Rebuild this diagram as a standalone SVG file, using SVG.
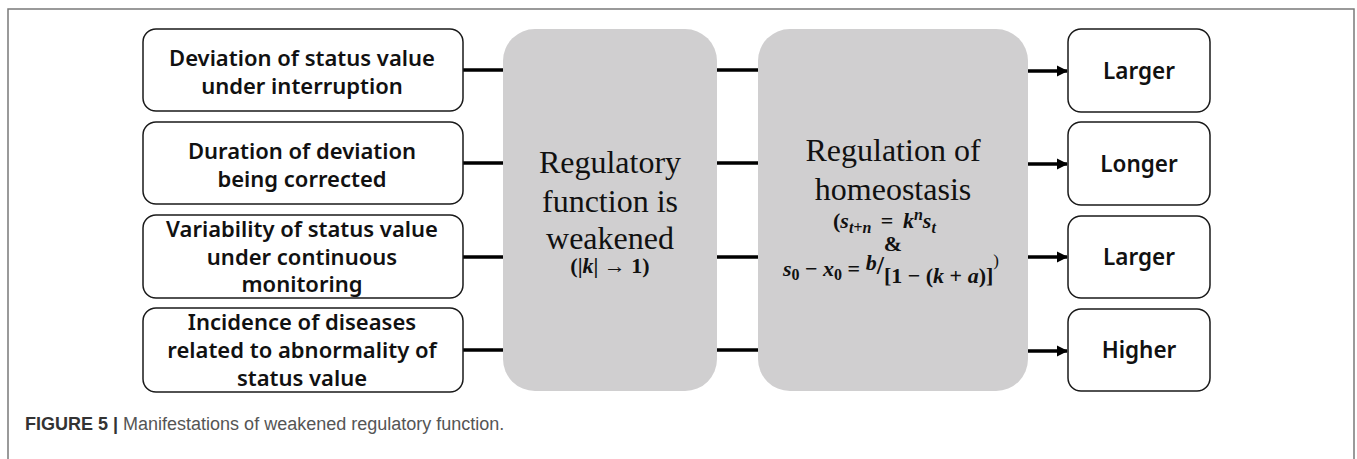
<svg xmlns="http://www.w3.org/2000/svg" width="1357" height="459" viewBox="0 0 1357 459">
  <defs>
    <marker id="arrow" viewBox="0 0 10 10" refX="9" refY="5" markerWidth="3.2" markerHeight="3.2" markerUnits="strokeWidth" orient="auto">
      <path d="M0,0 L10,5 L0,10 z" fill="#000"/>
    </marker>
    <style>
      .frame { fill: none; stroke: #7a7a7a; stroke-width: 1.5; }
      .box { fill: #fff; stroke: #1a1a1a; stroke-width: 1.5; }
      .hub { fill: #d0cfd0; stroke: none; }
      .lbl { font-family: "Noto Sans", "Open Sans", "DejaVu Sans", sans-serif; font-weight: 600; font-size: 22px; fill: #111; text-anchor: middle; }
      .out { font-family: "Noto Sans", "Open Sans", "DejaVu Sans", sans-serif; font-weight: 600; font-size: 22.5px; fill: #111; text-anchor: middle; }
      .serif { font-family: "Liberation Serif", "Times New Roman", serif; font-size: 32px; fill: #111; text-anchor: middle; }
      .math { font-family: "Liberation Serif", "DejaVu Serif", serif; font-weight: bold; font-style: italic; font-size: 22px; fill: #111; }
      .up { font-style: normal; }
      .link { stroke: #000; stroke-width: 3.5; fill: none; }
      .cap { font-family: "Liberation Sans", Arial, sans-serif; font-size: 18px; }
    </style>
  </defs>

  <!-- outer frame, open at the bottom -->
  <path class="frame" d="M8,459 V9 H1354 V459"/>

  <!-- connectors -->
  <g id="connectors">
    <line class="link" x1="463" y1="70" x2="503" y2="70"/>
    <line class="link" x1="463" y1="163" x2="503" y2="163"/>
    <line class="link" x1="463" y1="257" x2="503" y2="257"/>
    <line class="link" x1="463" y1="350" x2="503" y2="350"/>
    <line class="link" x1="717" y1="70" x2="758" y2="70"/>
    <line class="link" x1="717" y1="163" x2="758" y2="163"/>
    <line class="link" x1="717" y1="257" x2="758" y2="257"/>
    <line class="link" x1="717" y1="350" x2="758" y2="350"/>
    <line class="link" x1="1028" y1="71" x2="1067" y2="71" marker-end="url(#arrow)"/>
    <line class="link" x1="1028" y1="164" x2="1067" y2="164" marker-end="url(#arrow)"/>
    <line class="link" x1="1028" y1="257" x2="1067" y2="257" marker-end="url(#arrow)"/>
    <line class="link" x1="1028" y1="351" x2="1067" y2="351" marker-end="url(#arrow)"/>
  </g>

  <!-- left column: observed manifestations -->
  <g id="deviation">
    <rect class="box" x="143" y="29" width="320" height="82" rx="13"/>
    <text class="lbl" x="302" y="66">Deviation of status value</text>
    <text class="lbl" x="302" y="94">under interruption</text>
  </g>
  <g id="duration">
    <rect class="box" x="143" y="122" width="320" height="82" rx="13"/>
    <text class="lbl" x="302" y="159">Duration of deviation</text>
    <text class="lbl" x="302" y="187">being corrected</text>
  </g>
  <g id="variability">
    <rect class="box" x="143" y="215" width="320" height="83" rx="13"/>
    <text class="lbl" x="302" y="237">Variability of status value</text>
    <text class="lbl" x="302" y="265">under continuous</text>
    <text class="lbl" x="302" y="292">monitoring</text>
  </g>
  <g id="incidence">
    <rect class="box" x="143" y="308" width="320" height="84" rx="13"/>
    <text class="lbl" x="302" y="330">Incidence of diseases</text>
    <text class="lbl" x="302" y="358">related to abnormality of</text>
    <text class="lbl" x="302" y="386">status value</text>
  </g>

  <!-- centre: weakened regulation -->
  <g id="weakened">
    <rect class="hub" x="503" y="29" width="214" height="362" rx="32"/>
    <text class="serif" x="610" y="173">Regulatory</text>
    <text class="serif" x="610" y="212">function is</text>
    <text class="serif" x="610" y="249">weakened</text>
    <text class="math" x="610" y="273" text-anchor="middle" font-size="17"><tspan class="up">(|</tspan>k<tspan class="up">| → 1)</tspan></text>
  </g>

  <g id="homeostasis">
    <rect class="hub" x="758" y="29" width="270" height="362" rx="32"/>
    <text class="serif" x="893" y="161">Regulation of</text>
    <text class="serif" x="893" y="200">homeostasis</text>
    <text class="math" x="833" y="228" font-size="23"><tspan class="up">(</tspan>s<tspan font-size="16" dy="5">t+n</tspan><tspan class="up" dx="4" dy="-5"> = </tspan><tspan dx="4">k</tspan><tspan font-size="16" dy="-8">n</tspan><tspan dy="8">s</tspan><tspan font-size="16" dy="5">t</tspan></text>
    <text class="math up" x="893" y="251" text-anchor="middle" font-size="19">&amp;</text>
    <text class="math" x="783" y="276">s<tspan class="up" font-size="16" dy="4">0</tspan><tspan class="up" dy="-4"> − </tspan>x<tspan class="up" font-size="16" dy="4">0</tspan><tspan class="up" dy="-4"> = </tspan><tspan dy="-6">b</tspan><tspan class="up" font-size="26" dy="4">/</tspan><tspan class="up" dy="9">[1 − (</tspan>k<tspan class="up"> + </tspan>a<tspan class="up">)]</tspan><tspan class="up" font-weight="normal" font-size="17" dy="-17">)</tspan></text>
  </g>

  <!-- right column: direction of change -->
  <g id="larger-1">
    <rect class="box" x="1068" y="29" width="142" height="83" rx="13"/>
    <text class="out" x="1139" y="79">Larger</text>
  </g>
  <g id="longer">
    <rect class="box" x="1068" y="122" width="142" height="83" rx="13"/>
    <text class="out" x="1139" y="172">Longer</text>
  </g>
  <g id="larger-2">
    <rect class="box" x="1068" y="216" width="142" height="82" rx="13"/>
    <text class="out" x="1139" y="265">Larger</text>
  </g>
  <g id="higher">
    <rect class="box" x="1068" y="309" width="142" height="82" rx="13"/>
    <text class="out" x="1139" y="358">Higher</text>
  </g>

  <!-- caption -->
  <text class="cap" x="25" y="430"><tspan font-weight="bold" fill="#333">FIGURE 5 |</tspan><tspan fill="#555"> Manifestations of weakened regulatory function.</tspan></text>
</svg>
